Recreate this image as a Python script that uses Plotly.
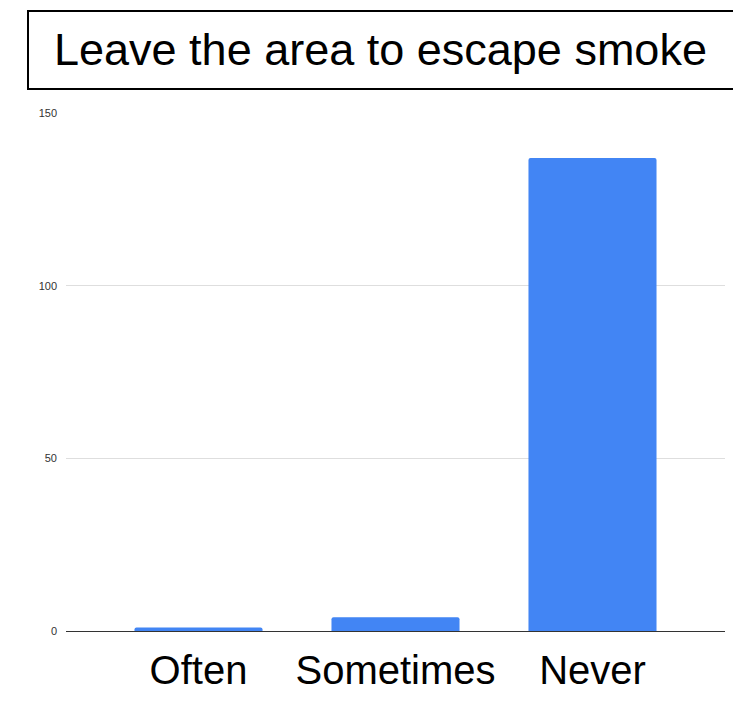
import plotly.graph_objects as go

categories = ["Often", "Sometimes", "Never"]
values = [1, 4, 137]
y_ticks = [0, 50, 100, 150]
title_text = "Leave the area to escape smoke"

OFF = 8  # default page body margin
W, H = 741 - OFF, 706 - OFF
L, R, T, B = 66 - OFF, 16, 113 - OFF, 75
pw = W - L - R
ph = H - T - B

def px_x(p):
    return (p - OFF - L) / pw

def px_y(p):
    return (H - B - (p - OFF)) / ph

fig = go.Figure()
fig.add_trace(go.Bar(
    x=categories, y=values, width=0.65,
    marker=dict(color="#4285F4", line=dict(width=0), cornerradius=2),
    hoverinfo="x+y",
))

fig.update_layout(
    width=W, height=H,
    margin=dict(l=L, r=R, t=T, b=B, pad=0),
    paper_bgcolor="white", plot_bgcolor="white",
    showlegend=False,
    font=dict(family="Liberation Sans, Arial, sans-serif", color="#000"),
    xaxis=dict(
        range=[-0.6726, 2.6726],
        showgrid=False, zeroline=False,
        showline=False, ticks="",
        tickfont=dict(size=40, color="#000"),
        ticklabelstandoff=12,
    ),
    yaxis=dict(
        range=[0, 150],
        tickvals=y_ticks,
        showgrid=True, gridcolor="#dedede", gridwidth=1,
        zeroline=True, zerolinecolor="#333333", zerolinewidth=1,
        showline=False, ticks="",
        tickfont=dict(size=11, color="#333333"),
        ticklabelstandoff=8,
    ),
    shapes=[dict(
        type="rect", xref="paper", yref="paper",
        x0=px_x(28), x1=px_x(734), y0=px_y(89), y1=px_y(11),
        line=dict(color="black", width=2), fillcolor="rgba(0,0,0,0)",
    )],
    annotations=[dict(
        text=title_text, xref="paper", yref="paper",
        x=px_x(380), y=px_y(49), xanchor="center", yanchor="middle",
        showarrow=False,
        font=dict(size=45, color="black", family="Liberation Sans, Arial, sans-serif"),
    )],
)

fig.write_html("out.html")
